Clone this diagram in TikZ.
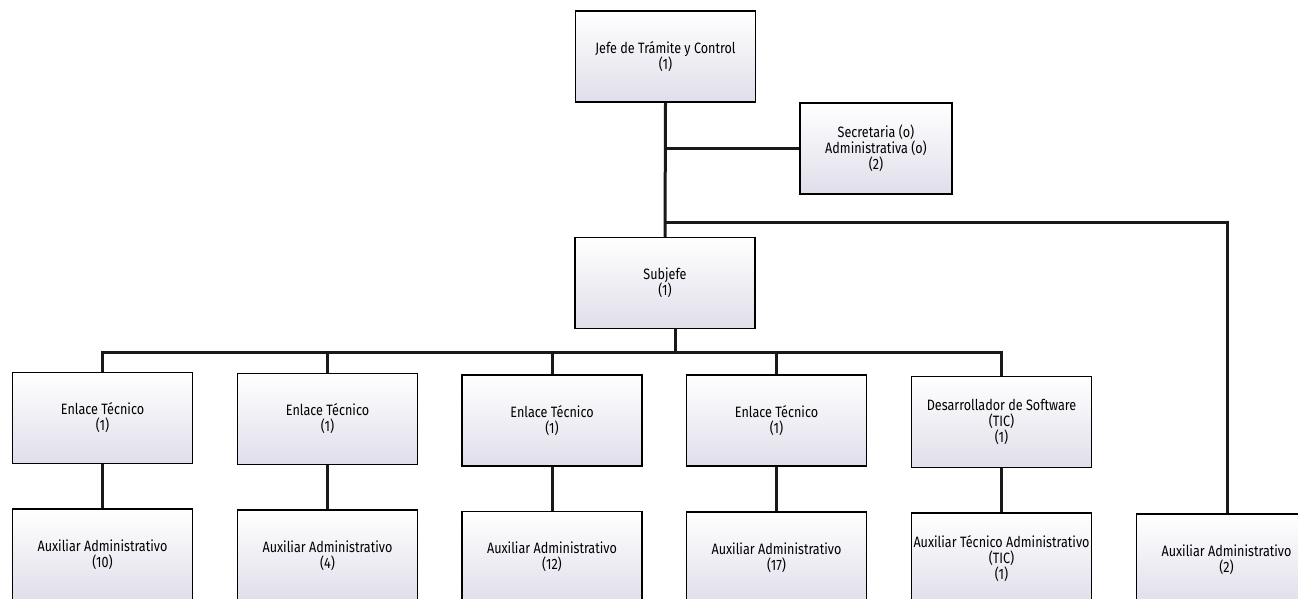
\documentclass[tikz,border=0pt]{standalone}
\usepackage{fontspec}
\setmainfont[FakeStretch=0.84]{Fira Sans}
\usetikzlibrary{calc}
\definecolor{lavanda}{RGB}{224,222,234}
\tikzstyle{puesto} = [
  draw,
  line width=1.1pt,
  top color=white,
  bottom color=lavanda,
  minimum width=180pt,
  minimum height=91pt,
  inner sep=0pt,
  align=center,
  font=\fontsize{15}{16}\selectfont,
]
\tikzstyle{linea} = [line width=3pt, black!90]

\begin{document}
\begin{tikzpicture}[x=1pt, y=-1pt]

        \useasboundingbox (0,0) rectangle (1298,599);
        \clip (0,0) rectangle (1298,599);

        %% jefatura
        \node [puesto] (jefe) at (665.5, 56.5) {Jefe de Trámite y Control\\(1)};
        \node [puesto, minimum width=152pt] (secre) at (876, 148.5) {Secretaria (o)\\Administrativa (o)\\(2)};
        \node [puesto] (subjefe) at (665, 283) {Subjefe\\(1)};

        %% enlaces
        \node [puesto] (enl1) at (102.5, 418) {Enlace Técnico\\(1)};
        \node [puesto] (enl2) at (327.5, 419) {Enlace Técnico\\(1)};
        \node [puesto] (enl3) at (552, 420.5) {Enlace Técnico\\(1)};
        \node [puesto] (enl4) at (776.5, 420.5) {Enlace Técnico\\(1)};
        \node [puesto] (dev) at (1001.5, 422) {Desarrollador de Software\\(TIC)\\(1)};

        %% auxiliares
        \node [puesto] (aux1) at (102.5, 554.5) {Auxiliar Administrativo\\(10)};
        \node [puesto] (aux2) at (327.5, 555.5) {Auxiliar Administrativo\\(4)};
        \node [puesto] (aux3) at (552, 557) {Auxiliar Administrativo\\(12)};
        \node [puesto] (aux4) at (776.5, 557.5) {Auxiliar Administrativo\\(17)};
        \node [puesto] (auxtic) at (1001.5, 558.5) {Auxiliar Técnico Administrativo\\(TIC)\\(1)};
        \node [puesto] (auxr) at (1226.5, 559.5) {Auxiliar Administrativo\\(2)};

        \coordinate (bus) at (675, 352);
        \coordinate (der) at (1227, 222);

        \draw [linea] (jefe.south) -- (subjefe.north);
        \draw [linea] (jefe.south |- secre.west) -- (secre.west);
        \draw [linea] (jefe.south |- der) -- (der) -- (der |- auxr.north);
        \draw [linea] (subjefe.south -| bus) -- (bus);

        \foreach \n in {enl1,enl2,enl3,enl4,dev} {
          \draw [linea] (\n.north) |- (bus);
        }

        \foreach \a/\b in {enl1/aux1,enl2/aux2,enl3/aux3,enl4/aux4,dev/auxtic} {
          \draw [linea] (\a.south) -- (\b.north);
        }
      \end{tikzpicture}
\end{document}
